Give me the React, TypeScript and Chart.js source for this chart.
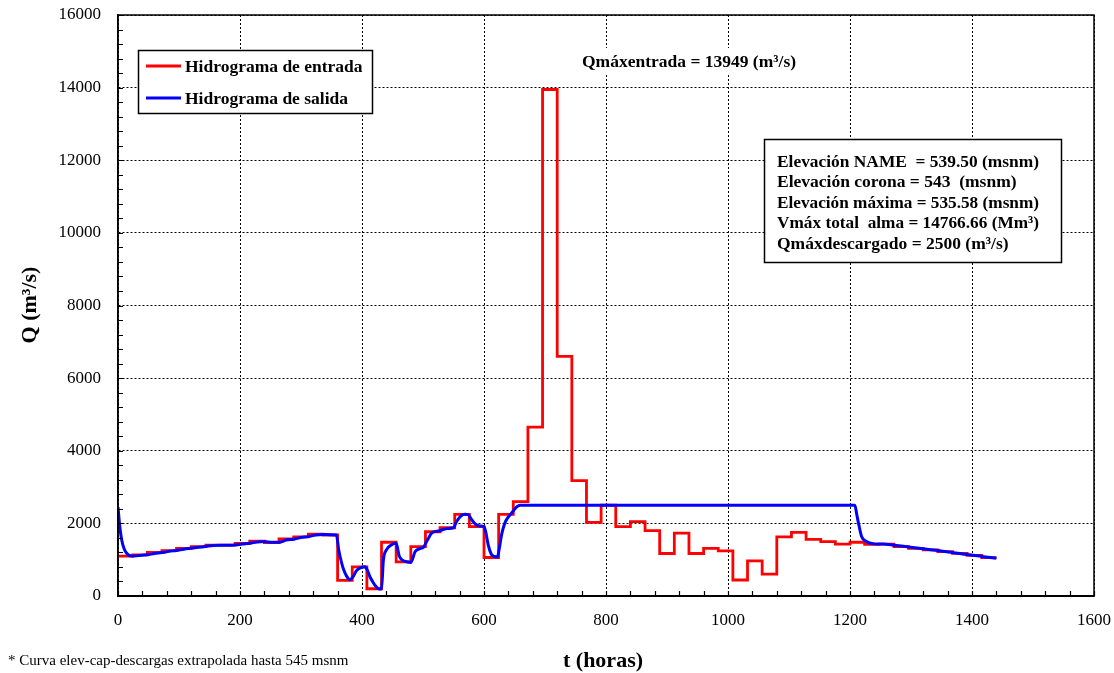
import React, { useEffect, useRef } from 'react';
import { Chart, registerables } from 'chart.js';

Chart.register(...registerables);

// Inflow hydrograph: step start hours and values (m3/s)
const inflowHours = [
  0, 24, 48, 72, 96, 120, 144, 168, 192, 216, 240, 264, 288, 312, 336,
  360, 384, 408, 432, 456, 480, 504, 528, 552, 576, 600, 624, 648, 672, 696,
  720, 744, 768, 792, 816, 840, 864, 888, 912, 936, 960, 984, 1008, 1032, 1056,
  1080, 1104, 1128, 1152, 1176, 1200, 1224, 1248, 1272, 1296, 1320, 1344, 1368, 1392, 1416,
  1440,
];
const inflowValues = [
  1100, 1130, 1200, 1250, 1310, 1360, 1400, 1400, 1450, 1510, 1470, 1570, 1630, 1700, 1680,
  430, 800, 200, 1480, 940, 1360, 1770, 1880, 2250, 1910, 1060, 2250, 2600, 4650, 13949,
  6600, 3180, 2030, 2500, 1910, 2050, 1800, 1170, 1730, 1170, 1310, 1240, 440, 970, 600,
  1630, 1750, 1560, 1500, 1430, 1480, 1420, 1430, 1360, 1310, 1270, 1220, 1175, 1120, 1056,
  1056,
];

// Outflow hydrograph
const outflowHours = [
  0, 3, 6, 10, 15, 22, 30, 48, 60, 72, 84, 96, 108, 120, 132, 144, 156, 168, 180, 192,
  204, 216, 228, 240, 252, 264, 276, 288, 300, 312, 324, 336, 348, 358,
  362, 366, 370, 375, 380, 385, 391, 398, 405, 409, 413, 418, 423, 428, 432,
  435, 440, 448, 456, 461, 467, 473, 480, 487, 494, 501, 506, 514, 521, 528, 540, 550,
  555, 562, 569, 574, 580, 586, 593, 600, 603, 607, 612, 617, 622, 625, 629, 634, 640, 646, 650, 655, 660,
  1208, 1211, 1214, 1219, 1227, 1238, 1254, 1272, 1296, 1320, 1344, 1368, 1392, 1416, 1440,
];
const outflowValues = [
  2450, 1900, 1550, 1300, 1160, 1100, 1105, 1135, 1170, 1195, 1230, 1255, 1290, 1315, 1340, 1365, 1390, 1400, 1400, 1405,
  1430, 1450, 1490, 1500, 1480, 1480, 1540, 1565, 1610, 1635, 1680, 1695, 1690, 1680,
  1250, 950, 720, 540, 450, 520, 700, 780, 805, 700, 530, 380, 260, 195, 200,
  980, 1270, 1405, 1450, 1100, 980, 945, 925, 1220, 1300, 1345, 1500, 1730, 1780, 1800, 1860, 1880,
  2050, 2200, 2250, 2240, 2100, 1980, 1930, 1910, 1750, 1400, 1150, 1090, 1075, 1300, 1700, 2000, 2180, 2300, 2390, 2470, 2500,
  2500, 2250, 2000, 1640, 1500, 1440, 1432, 1400, 1350, 1300, 1250, 1200, 1140, 1090, 1040,
];

const legendLabels = ['Hidrograma de entrada', 'Hidrograma de salida'];
const peakLabel = 'Qmáxentrada = 13949 (m³/s)';
const infoLines = [
  'Elevación NAME  = 539.50 (msnm)',
  'Elevación corona = 543  (msnm)',
  'Elevación máxima = 535.58 (msnm)',
  'Vmáx total  alma = 14766.66 (Mm³)',
  'Qmáxdescargado = 2500 (m³/s)',
];
const xTitle = 't (horas)';
const yTitle = 'Q (m³/s)';
const footnote = '* Curva elev-cap-descargas extrapolada hasta 545 msnm';

const SERIF = '"Liberation Serif", "Times New Roman", serif';

const overlayPlugin = {
  id: 'overlay',
  afterDraw(chart: any) {
    const { ctx, chartArea: a, scales } = chart;
    const x = scales.x;
    const y = scales.y;
    ctx.save();
    // minor tick marks inside
    ctx.strokeStyle = '#000';
    ctx.lineWidth = 1.2;
    ctx.setLineDash([]);
    ctx.beginPath();
    for (let v = x.min; v <= x.max; v += 40) {
      const px = Math.round(x.getPixelForValue(v)) + 0.5;
      ctx.moveTo(px, a.bottom);
      ctx.lineTo(px, a.bottom - 5);
    }
    for (let v = y.min; v <= y.max; v += 400) {
      const py = Math.round(y.getPixelForValue(v)) + 0.5;
      ctx.moveTo(a.left, py);
      ctx.lineTo(a.left + 5, py);
    }
    ctx.stroke();
    // frame
    ctx.lineWidth = 1.5;
    ctx.strokeRect(a.left, a.top, a.right - a.left, a.bottom - a.top);
    ctx.lineWidth = 2;
    ctx.beginPath();
    ctx.moveTo(a.left, a.bottom);
    ctx.lineTo(a.right, a.bottom);
    ctx.stroke();

    // legend box
    ctx.fillStyle = '#fff';
    ctx.fillRect(138, 50, 234, 63);
    ctx.lineWidth = 1.5;
    ctx.strokeStyle = '#000';
    ctx.strokeRect(138.5, 50.5, 234, 63);
    const legendColors = ['#ff0000', '#0000ff'];
    const legendY = [66, 98];
    ctx.font = `bold 17.5px ${SERIF}`;
    ctx.textBaseline = 'middle';
    ctx.textAlign = 'left';
    legendLabels.forEach((lbl, i) => {
      ctx.strokeStyle = legendColors[i];
      ctx.lineWidth = 2.8;
      ctx.beginPath();
      ctx.moveTo(146, legendY[i]);
      ctx.lineTo(181, legendY[i]);
      ctx.stroke();
      ctx.fillStyle = '#000';
      ctx.fillText(lbl, 185, legendY[i] + 1, 180);
    });

    // peak annotation
    ctx.fillStyle = '#fff';
    ctx.fillRect(578, 48, 226, 26);
    ctx.fillStyle = '#000';
    ctx.font = `bold 17.5px ${SERIF}`;
    ctx.textAlign = 'left';
    ctx.fillText(peakLabel, 582, 62, 218);

    // info box
    ctx.fillStyle = '#fff';
    ctx.fillRect(764, 139, 297, 123);
    ctx.strokeStyle = '#000';
    ctx.lineWidth = 1.5;
    ctx.strokeRect(764.5, 139.5, 297, 123);
    ctx.fillStyle = '#000';
    ctx.font = `bold 17.5px ${SERIF}`;
    infoLines.forEach((t, i) => {
      ctx.fillText(t, 777, 162 + i * 20.5, 262);
    });

    // axis titles
    ctx.font = `bold 22px ${SERIF}`;
    ctx.textAlign = 'center';
    ctx.fillText(xTitle, 603, 661);
    ctx.save();
    ctx.translate(30, 305);
    ctx.rotate(-Math.PI / 2);
    ctx.font = `bold 22px ${SERIF}`;
    ctx.fillText(yTitle, 0, 0);
    ctx.restore();

    // footnote
    ctx.font = `15px ${SERIF}`;
    ctx.textAlign = 'left';
    ctx.fillText(footnote, 8, 661, 355);
    ctx.restore();
  },
};

export default function App() {
  const canvasRef = useRef<HTMLCanvasElement | null>(null);

  useEffect(() => {
    document.body.style.margin = '0';
    const canvas = canvasRef.current;
    if (!canvas) return;
    const inflow = inflowHours.map((h, i) => ({ x: h, y: inflowValues[i] }));
    const outflow = outflowHours.map((h, i) => ({ x: h, y: outflowValues[i] }));
    const gridColor = '#000';
    const plainLabel = (v: any) => String(v);
    const chart = new Chart(canvas, {
      type: 'line',
      data: {
        datasets: [
          {
            label: legendLabels[0],
            data: inflow,
            borderColor: '#ff0000',
            backgroundColor: '#ff0000',
            borderWidth: 2.8,
            pointRadius: 0,
            stepped: 'before',
            fill: false,
            order: 2,
          },
          {
            label: legendLabels[1],
            data: outflow,
            borderColor: '#0000ff',
            backgroundColor: '#0000ff',
            borderWidth: 3,
            pointRadius: 0,
            cubicInterpolationMode: 'monotone',
            fill: false,
            order: 1,
          },
        ],
      },
      options: {
        responsive: false,
        animation: false,
        events: [],
        layout: { padding: { left: 0, right: 20, top: 15, bottom: 0 } },
        plugins: {
          legend: { display: false },
          tooltip: { enabled: false },
          title: { display: false },
        },
        scales: {
          x: {
            type: 'linear',
            min: 0,
            max: 1600,
            afterFit: (s: any) => {
              s.height = 77;
              s.paddingLeft = 0;
              s.paddingRight = 0;
            },
            ticks: {
              stepSize: 200,
              color: '#000',
              font: { family: SERIF, size: 17 },
              padding: 14,
              maxRotation: 0,
              autoSkip: false,
              callback: plainLabel,
            },
            grid: {
              color: gridColor,
              lineWidth: 1,
              drawTicks: false,
            },
            border: { display: true, color: '#000', width: 1.5, dash: [2, 2] },
          },
          y: {
            type: 'linear',
            min: 0,
            max: 16000,
            afterFit: (s: any) => {
              s.width = 118;
              s.paddingTop = 0;
              s.paddingBottom = 0;
            },
            ticks: {
              stepSize: 2000,
              color: '#000',
              font: { family: SERIF, size: 17 },
              padding: 17,
              autoSkip: false,
              callback: plainLabel,
            },
            grid: {
              color: gridColor,
              lineWidth: 1,
              drawTicks: false,
            },
            border: { display: true, color: '#000', width: 1.5, dash: [2, 2] },
          },
        },
      } as any,
      plugins: [overlayPlugin],
    });
    return () => chart.destroy();
  }, []);

  return (
    <div style={{ width: 1114, height: 673, background: '#fff' }}>
      <canvas ref={canvasRef} width={1114} height={673} style={{ display: 'block' }} />
    </div>
  );
}
